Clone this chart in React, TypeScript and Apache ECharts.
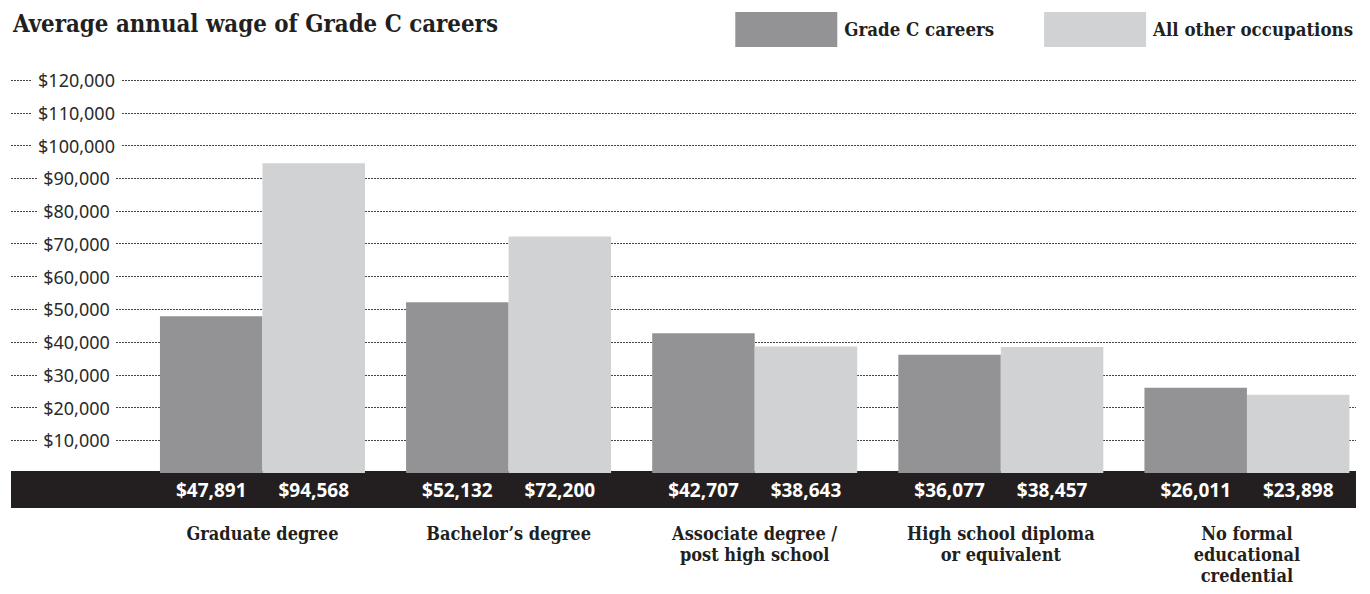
import React, { useEffect, useRef } from "react";
import * as echarts from "echarts";

const categories = [
  "Graduate degree",
  "Bachelor’s degree",
  "Associate degree /\npost high school",
  "High school diploma\nor equivalent",
  "No formal\neducational\ncredential",
];
const gradeC = [47891, 52132, 42707, 36077, 26011];
const allOther = [94568, 72200, 38643, 38457, 23898];
const yTicks = [0, 10000, 20000, 30000, 40000, 50000, 60000, 70000, 80000, 90000, 100000, 110000, 120000];
const seriesNames = ["Grade C careers", "All other occupations"];
const titleText = "Average annual wage of Grade C careers";

const SLAB = "'DejaVu Serif Condensed', 'DejaVu Serif', serif";
const SANS = "'Noto Sans', sans-serif";
const fmt = (v: number) => "$" + v.toLocaleString("en-US");

export default function App() {
  const ref = useRef<HTMLDivElement>(null);
  useEffect(() => {
    document.body.style.margin = "0";
    const chart = echarts.init(ref.current!, null, { renderer: "svg" });
    const yMin = yTicks[0];
    const yMax = yTicks[yTicks.length - 1];
    const yInt = yTicks[1] - yTicks[0];
    const label = {
      show: true,
      position: "bottom" as const,
      distance: 7,
      color: "#ffffff",
      fontFamily: SANS,
      fontWeight: "bold" as const,
      fontSize: 19,
      formatter: (p: any) => fmt(p.value),
    };
    chart.setOption({
      animation: false,
      backgroundColor: "#ffffff",
      title: {
        text: titleText,
        left: 8,
        top: 7,
        textStyle: { fontFamily: SLAB, fontWeight: "bold", fontSize: 23.8, color: "#231f20" },
      },
      legend: {
        right: 12,
        top: 7,
        itemWidth: 102,
        itemHeight: 35,
        itemGap: 50,
        icon: "rect",
        data: seriesNames,
        textStyle: {
          fontFamily: SLAB,
          fontWeight: "bold",
          fontSize: 18.5,
          color: "#231f20",
          padding: [0, 0, 0, 2],
        },
      },
      grid: [
        { left: 139.4, width: 1236.25, top: 80, bottom: 121 },
        { left: 11, right: 14, top: 80, bottom: 121 },
      ],
      xAxis: [
        {
          type: "category",
          gridIndex: 0,
          data: categories,
          axisLine: { show: false },
          axisTick: { show: false },
          axisLabel: {
            margin: 50,
            fontFamily: SLAB,
            fontWeight: "bold",
            fontSize: 18,
            lineHeight: 21,
            color: "#231f20",
            align: "center",
            verticalAlign: "top",
          },
        },
        {
          type: "category",
          gridIndex: 1,
          data: [""],
          show: false,
        },
      ],
      yAxis: [
        {
          type: "value",
          gridIndex: 0,
          min: yMin,
          max: yMax,
          interval: yInt,
          show: false,
          splitLine: { show: false },
        },
        {
          type: "value",
          gridIndex: 1,
          min: yMin,
          max: yMax,
          interval: yInt,
          axisLine: { show: false },
          axisTick: { show: false },
          splitLine: { show: true, lineStyle: { color: "#444", width: 1, type: [2, 1] } },
          axisLabel: {
            inside: true,
            align: "center",
            margin: 65.5,
            fontFamily: SANS,
            fontSize: 18,
            color: "#2a2a2a",
            backgroundColor: "#ffffff",
            padding: [1, 6, 1, 6],
            formatter: (v: number) => (v === 0 ? "" : fmt(v)),
          },
        },
      ],
      graphic: [
        {
          type: "rect",
          z: 1,
          shape: { x: 11, y: 471, width: 1345, height: 37 },
          style: { fill: "#231f20" },
        },
      ],
      series: [
        {
          name: seriesNames[0],
          type: "bar",
          xAxisIndex: 0,
          yAxisIndex: 0,
          data: gradeC,
          barWidth: 102.5,
          barGap: "0%",
          z: 2,
          itemStyle: { color: "#939396" },
          label,
        },
        {
          name: seriesNames[1],
          type: "bar",
          xAxisIndex: 0,
          yAxisIndex: 0,
          data: allOther,
          barWidth: 102.5,
          barGap: "0%",
          z: 2,
          itemStyle: { color: "#d1d2d4" },
          label,
        },
      ],
    });
    return () => chart.dispose();
  }, []);
  return <div ref={ref} style={{ width: 1370, height: 594 }} />;
}
